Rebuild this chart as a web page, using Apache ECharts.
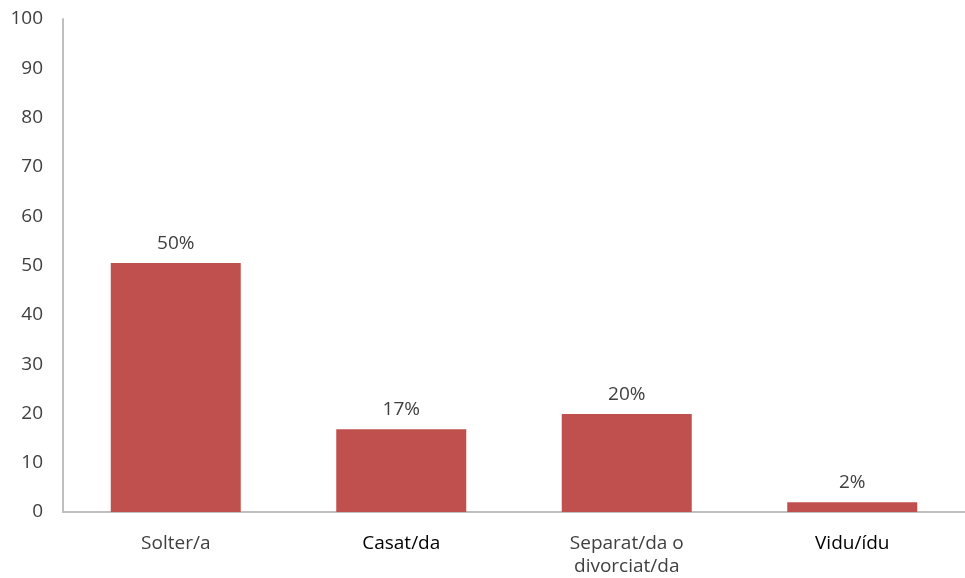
<!DOCTYPE html>
<html>
<head>
<meta charset="utf-8">
<script src="https://cdn.jsdelivr.net/npm/echarts@6/dist/echarts.min.js"></script>
<style>
  html, body { margin: 0; padding: 0; background: #fff; }
  #chart { width: 965px; height: 578px; }
</style>
</head>
<body>
<div id="chart"></div>
<script>
// estat civil
const categories = ['Solter/a', 'Casat/da', 'Separat/da o\ndivorciat/da', 'Vidu/ídu'];
const values = [50.5, 16.8, 19.9, 2.0];
const labels = ['50%', '17%', '20%', '2%'];
const labelColors = ['#404040', '#000000', '#404040', '#000000'];

const chart = echarts.init(document.getElementById('chart'));

const option = {
  animation: false,
  grid: {
    left: 63,
    right: -7,
    top: 19,
    bottom: 66
  },
  xAxis: {
    type: 'category',
    data: categories.map((c, i) => ({ value: c, textStyle: { color: labelColors[i] } })),
    axisTick: { show: false },
    axisLine: { lineStyle: { color: '#bfbfbf', width: 2 } },
    axisLabel: {
      fontFamily: 'Open Sans',
      fontSize: 19,
      lineHeight: 23,
      margin: 20,
      interval: 0
    }
  },
  yAxis: {
    type: 'value',
    min: 0,
    max: 100,
    interval: 10,
    axisLine: { show: true, lineStyle: { color: '#bfbfbf', width: 2 } },
    axisTick: { show: false },
    splitLine: { show: false },
    axisLabel: {
      fontFamily: 'Open Sans',
      fontSize: 19,
      color: '#404040',
      margin: 20
    }
  },
  series: [
    {
      type: 'bar',
      data: values,
      barWidth: 130,
      itemStyle: { color: '#c0504d' },
      label: {
        show: true,
        position: 'top',
        distance: 10,
        fontFamily: 'Open Sans',
        fontSize: 19,
        color: '#404040',
        formatter: p => labels[p.dataIndex]
      }
    }
  ]
};

chart.setOption(option);
</script>
</body>
</html>
